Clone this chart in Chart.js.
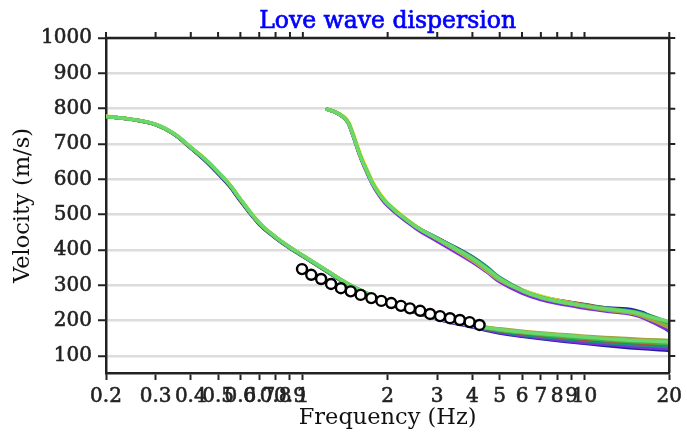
<!DOCTYPE html>
<html>
<head>
<meta charset="utf-8">
<title>Love wave dispersion</title>
<script src="https://cdn.jsdelivr.net/npm/chart.js@4.4.1/dist/chart.umd.min.js"></script>
<style>
  html, body { margin: 0; padding: 0; background: #fff; }
  #chart_box { display: block; }
</style>
</head>
<body>
<canvas id="chart_box" width="687" height="435"></canvas>
<script>
// axis ticks
const xTicks = [0.2, 0.3, 0.4, 0.5, 0.6, 0.7, 0.8, 0.9, 1, 2, 3, 4, 5, 6, 7, 8, 9, 10, 20];
const xLabels = ["0.2", "0.3", "0.4", "0.5", "0.6", "0.7", "0.8", "0.9", "1", "2", "3", "4", "5", "6", "7", "8", "9", "10", "20"];
const yTicks = [100, 200, 300, 400, 500, 600, 700, 800, 900, 1000];

// fundamental mode, one array per model
const fundFreq = [0.2, 0.25, 0.3, 0.35, 0.4, 0.45, 0.5, 0.55, 0.6, 0.7, 0.8, 0.9, 1, 1.2, 1.5, 2, 2.5, 3, 4, 5, 6, 8, 10, 13, 16, 20];
const fundNavy   = [778, 769, 755, 727, 688, 653, 616, 580, 539, 473, 434, 405, 382, 342, 295, 250, 224, 205, 182, 165, 156, 144, 136, 127, 121, 116];
const fundPurple = [778, 769, 755, 728, 690, 656, 620, 584, 543, 476, 436, 407, 384, 344, 296, 251, 225, 205, 183, 167, 158, 146, 138, 131, 125, 120];
const fundTeal   = [778, 769, 755, 728, 689, 655, 619, 583, 542, 475, 435, 406, 383, 343, 296, 252, 226, 206, 184, 170, 161, 151, 144, 136, 131, 127];
const fundRed    = [778, 769, 755, 728, 690, 656, 620, 584, 543, 476, 436, 407, 384, 344, 297, 252, 226, 207, 186, 172, 165, 155, 148, 142, 137, 133];
const fundYellow = [779, 770, 756, 729, 691, 658, 622, 586, 545, 478, 437, 408, 385, 345, 298, 253, 227, 207, 187, 174, 167, 158, 152, 146, 141, 138];
const fundOlive  = [778, 769, 755, 728, 690, 656, 620, 584, 543, 476, 436, 407, 384, 344, 297, 253, 227, 208, 188, 177, 170, 162, 156, 151, 147, 144];
const fundGreen  = [778, 769, 755, 728, 690, 656, 620, 584, 543, 476, 436, 407, 384, 344, 297, 252, 226, 207, 186, 173, 166, 156, 150, 143, 139, 135];
const fundLight  = [778, 769, 756, 729, 691, 657, 621, 585, 544, 477, 437, 408, 385, 345, 298, 253, 227, 207, 187, 175, 168, 160, 154, 147, 143, 140];

// first higher mode
const highFreq = [1.22, 1.3, 1.4, 1.45, 1.5, 1.6, 1.7, 1.8, 2, 2.5, 3, 3.5, 4, 4.5, 5, 6, 7, 8, 10, 12, 15, 17, 20];
const highNavy   = [798, 791, 775, 760, 730, 666, 617, 577, 529, 467, 434, 406, 380, 350, 318, 283, 263, 253, 242, 236, 230, 214, 170];
const highPurple = [798, 791, 774, 759, 728, 663, 614, 574, 525, 463, 425, 394, 366, 338, 310, 278, 260, 249, 236, 227, 217, 200, 172];
const highTeal   = [798, 791, 775, 760, 730, 666, 618, 578, 530, 468, 433, 405, 380, 352, 322, 287, 268, 258, 246, 236, 226, 215, 195];
const highRed    = [798, 791, 775, 760, 730, 666, 618, 578, 530, 468, 432, 402, 374, 344, 317, 286, 269, 258, 245, 234, 222, 208, 185];
const highYellow = [798, 792, 778, 764, 736, 673, 624, 583, 534, 470, 431, 400, 371, 342, 315, 287, 270, 258, 243, 232, 221, 206, 182];
const highOlive  = [798, 791, 775, 760, 730, 666, 618, 578, 530, 468, 432, 401, 372, 343, 316, 284, 265, 254, 240, 230, 220, 205, 180];
const highGreen  = [798, 791, 775, 760, 730, 666, 618, 578, 530, 468, 433, 404, 377, 348, 320, 286, 267, 256, 243, 234, 225, 212, 192];
const highLight  = [798, 791, 775, 760, 730, 666, 618, 578, 530, 468, 432, 403, 376, 347, 319, 285, 266, 255, 242, 233, 224, 211, 198];

// observed dispersion picks
const obsFreq = [0.993, 1.071, 1.161, 1.259, 1.365, 1.479, 1.604, 1.75, 1.9, 2.06, 2.23, 2.4, 2.61, 2.83, 3.07, 3.33, 3.61, 3.91, 4.24];
const obsVel  = [346, 330, 318, 304, 292, 283, 273, 264, 256, 250, 242, 235, 228, 219, 213, 207, 202, 196, 188];

document.addEventListener("DOMContentLoaded", function () {
  // top-most first
  const curves = [
    { color: "#6ad86a", fund: fundLight, high: highLight },
    { color: "#3cb44b", fund: fundGreen, high: highGreen },
    { color: "#a3a23c", fund: fundOlive, high: highOlive },
    { color: "#e8e82a", fund: fundYellow, high: highYellow },
    { color: "#d03a30", fund: fundRed, high: highRed },
    { color: "#1f8f7a", fund: fundTeal, high: highTeal },
    { color: "#7a30e0", fund: fundPurple, high: highPurple },
    { color: "#1f1f9e", fund: fundNavy, high: highNavy },
  ];

  function toPoints(xs, ys) {
    return xs.map(function (x, i) { return { x: x, y: ys[i] }; });
  }

  const datasets = [];
  datasets.push({
    label: "observed",
    data: toPoints(obsFreq, obsVel),
    showLine: false,
    pointRadius: 5,
    pointBorderWidth: 2.4,
    pointBorderColor: "#000",
    pointBackgroundColor: "#fff",
  });
  curves.forEach(function (c) {
    datasets.push({ data: toPoints(fundFreq, c.fund), borderColor: c.color });
    datasets.push({ data: toPoints(highFreq, c.high), borderColor: c.color });
  });
  datasets.forEach(function (d) {
    if (d.label !== "observed") {
      d.borderWidth = 3.5;
      d.pointRadius = 0;
      d.fill = false;
      d.tension = 0.4;
      d.borderCapStyle = "round";
      d.borderJoinStyle = "round";
    }
  });

  const framePlugin = {
    id: "frame",
    afterDraw: function (chart) {
      const ctx = chart.ctx;
      const a = chart.chartArea;
      const xs = chart.scales.x;
      const ys = chart.scales.y;
      ctx.save();
      ctx.strokeStyle = "#222";
      ctx.lineWidth = 2.5;
      ctx.beginPath();
      ctx.moveTo(a.left, a.top);
      ctx.lineTo(a.right, a.top);
      ctx.lineTo(a.right, a.bottom);
      ctx.stroke();
      ctx.lineWidth = 2;
      ctx.beginPath();
      xTicks.forEach(function (v) {
        const px = xs.getPixelForValue(v);
        ctx.moveTo(px, a.top);
        ctx.lineTo(px, a.top - 6);
      });
      yTicks.forEach(function (v) {
        const py = ys.getPixelForValue(v);
        ctx.moveTo(a.right, py);
        ctx.lineTo(a.right + 6, py);
      });
      ctx.stroke();
      // title, slightly emboldened
      ctx.fillStyle = "#0000ff";
      ctx.strokeStyle = "#0000ff";
      ctx.lineWidth = 0.7;
      ctx.font = '23.5px "DejaVu Serif"';
      ctx.textAlign = "center";
      ctx.textBaseline = "alphabetic";
      ctx.fillText("Love wave dispersion", (a.left + a.right) / 2, 28);
      ctx.strokeText("Love wave dispersion", (a.left + a.right) / 2, 28);
      ctx.restore();
    },
  };

  new Chart(document.getElementById("chart_box"), {
    type: "line",
    data: { datasets: datasets },
    plugins: [framePlugin],
    options: {
      responsive: false,
      animation: false,
      layout: { padding: { top: 38, right: 12, left: 0, bottom: 0 } },
      plugins: {
        legend: { display: false },
        tooltip: { enabled: false },
      },
      scales: {
        x: {
          type: "logarithmic",
          min: 0.2,
          max: 20,
          afterBuildTicks: function (scale) {
            scale.ticks = xTicks.map(function (v) { return { value: v }; });
          },
          afterFit: function (scale) { scale.height = 62; },
          border: { display: true, color: "#222", width: 2.5 },
          grid: { drawOnChartArea: false, drawTicks: true, tickLength: 7, tickColor: "#222", tickWidth: 2 },
          ticks: {
            autoSkip: false,
            maxRotation: 0,
            minRotation: 0,
            padding: 5,
            color: "#222",
            textStrokeColor: "#222",
            textStrokeWidth: 0.6,
            font: { family: "DejaVu Serif", size: 20 },
            callback: function (value, index) { return xLabels[index]; },
          },
          title: {
            display: true,
            text: "Frequency (Hz)",
            color: "#111",
            font: { family: "DejaVu Serif", size: 22.5 },
            padding: { top: 0, bottom: 3.5 },
          },
        },
        y: {
          min: 52,
          max: 1000,
          afterBuildTicks: function (scale) {
            scale.ticks = yTicks.map(function (v) { return { value: v }; });
          },
          afterFit: function (scale) { scale.width = 106; },
          border: { display: true, color: "#222", width: 2.5 },
          grid: { color: "#dcdcdc", lineWidth: 2.5, tickColor: "#222", tickLength: 8, tickWidth: 2 },
          ticks: {
            padding: 6,
            color: "#222",
            textStrokeColor: "#222",
            textStrokeWidth: 0.6,
            font: { family: "DejaVu Serif", size: 20 },
            callback: function (value) { return String(value); },
          },
          title: {
            display: true,
            text: "Velocity (m/s)",
            color: "#111",
            font: { family: "DejaVu Serif", size: 22.5 },
            padding: { top: 9.5, bottom: 0 },
          },
        },
      },
    },
  });
});
</script>
</body>
</html>
